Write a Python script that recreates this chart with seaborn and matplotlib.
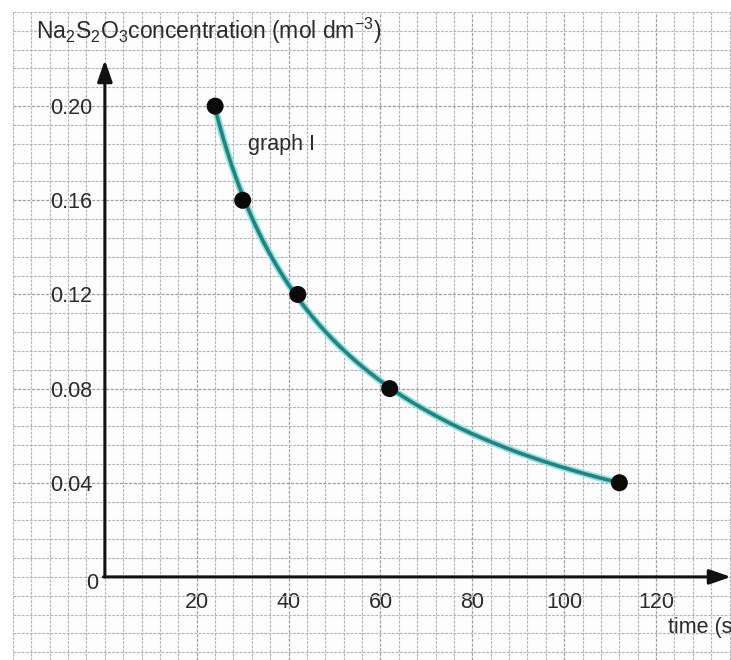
import matplotlib
matplotlib.use("Agg")
import matplotlib.pyplot as plt
import matplotlib.ticker as mticker
import numpy as np
import pandas as pd
import seaborn as sns

# data
time_s = [24, 30, 42, 62, 112]
conc = [0.20, 0.16, 0.12, 0.08, 0.04]
x_ticks = [20, 40, 60, 80, 100, 120]
y_ticks = [0.04, 0.08, 0.12, 0.16, 0.20]
y_ticklabels = ["0.04", "0.08", "0.12", "0.16", "0.20"]

df = pd.DataFrame({"time": time_s, "conc": conc})

# smooth curve: low-order fit in log-log space through the measured points
coef = np.polyfit(np.log(df["time"]), np.log(df["conc"]), 3)
t_fit = np.linspace(df["time"].min(), df["time"].max(), 200)
fit = pd.DataFrame({"time": t_fit, "conc": np.exp(np.polyval(coef, np.log(t_fit)))})

sns.set_style("white")
plt.rcParams["font.family"] = ["Liberation Sans", "DejaVu Sans"]
plt.rcParams["mathtext.fontset"] = "custom"
plt.rcParams["mathtext.rm"] = "Liberation Sans"
plt.rcParams["mathtext.it"] = "Liberation Sans"

fig = plt.figure(figsize=(7.31, 6.60), dpi=100)
fig.patch.set_facecolor("white")
ax = fig.add_axes([13 / 731, 0, 718 / 731, 648 / 660])
ax.set_facecolor("#fdfdfd")

ax.set_xlim(-20, 136.3)
ax.set_ylim(-0.0353, 0.24)

# graph paper grid
ax.xaxis.set_minor_locator(mticker.MultipleLocator(4))
ax.yaxis.set_minor_locator(mticker.MultipleLocator(0.008))
ax.set_xticks(x_ticks)
ax.set_yticks(y_ticks)
ax.set_yticklabels(y_ticklabels)
ax.grid(which="minor", color="#b4b4b4", lw=0.8, ls=(0, (2.5, 1.2)))
ax.grid(which="major", color="#a0a0a0", lw=0.9, ls=(0, (2.5, 1.2)))
ax.set_axisbelow(True)

# axes through the origin
for side in ["top", "right", "left", "bottom"]:
    ax.spines[side].set_visible(False)
ax.spines["left"].set_position(("data", 0))
ax.spines["bottom"].set_position(("data", 0))
ax.tick_params(which="minor", length=0)
ax.tick_params(axis="x", which="major", direction="out", length=6, width=1.5,
               color="#222222", labelsize=15.5, labelcolor="#2a2a2a", pad=5)
ax.tick_params(axis="y", which="major", direction="out", length=5, width=1.5,
               color="#222222", labelsize=15.5, labelcolor="#2a2a2a", pad=4)

arrow = dict(arrowstyle="-|>,head_length=1.3,head_width=0.45", lw=2.2,
             color="#111111", shrinkA=0, shrinkB=0)
ax.annotate("", xy=(0, 0.2196), xytext=(0, 0), arrowprops=arrow, annotation_clip=False)
ax.annotate("", xy=(136.3, 0), xytext=(-0.3, 0), arrowprops=arrow, annotation_clip=False)
ax.text(-1.4, -0.0026, "0", ha="right", va="center", fontsize=15.5, color="#2a2a2a")

# smooth curve and points
sns.lineplot(data=fit, x="time", y="conc", color="#8fe0de", lw=5.0, ax=ax)
sns.lineplot(data=fit, x="time", y="conc", color="#1e8583", lw=2.6, ax=ax)
sns.scatterplot(data=df, x="time", y="conc", color="#0a0a0a", s=150,
                edgecolor="none", zorder=5, ax=ax)

ax.set_xlabel("")
ax.set_ylabel("")

ax.text(-15, 0.2285, r"Na$_2$S$_2$O$_3$concentration (mol dm$^{-3}$)",
        ha="left", va="baseline", fontsize=16.5, color="#2a2a2a")
ax.text(31.2, 0.1835, "graph I", ha="left", va="center", fontsize=15.5, color="#2a2a2a")
ax.text(122.5, -0.0217, "time (s)", ha="left", va="center", fontsize=15.5, color="#2a2a2a")

fig.savefig("out.png", dpi=100)
